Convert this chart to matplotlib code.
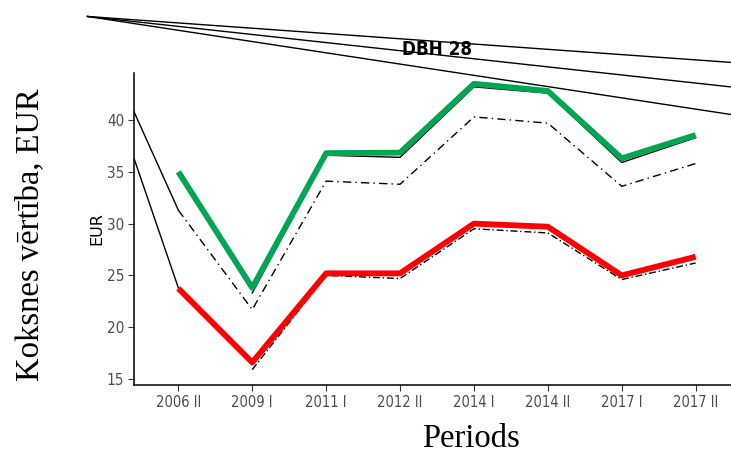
import matplotlib.pyplot as plt
import numpy as np

# periods on the x axis
periods = ["2006 II", "2009 I", "2011 I", "2012 II", "2014 I", "2014 II", "2017 I", "2017 II"]

# series values, EUR
green_thick = [35.0, 23.8, 36.8, 36.85, 43.5, 42.8, 36.3, 38.55]
black_solid = [np.nan, 23.3, 36.6, 36.4, 43.2, 42.6, 35.9, 38.3]
black_dash = [31.3, 21.7, 34.1, 33.8, 40.3, 39.7, 33.6, 35.8]
red_thick = [23.75, 16.6, 25.2, 25.2, 30.0, 29.7, 25.0, 26.8]
red_dashdot = [np.nan, 15.9, 25.0, 24.7, 29.5, 29.1, 24.6, 26.2]

# stray connector lines that run in from outside the panel (x in category units)
left_x = [-0.6, 0.0]
left_a = [40.8, 31.3]
left_b = [36.3, 23.8]
top_x = [-1.23, 7.6]
top_lines = [[50.0, 45.5], [50.0, 43.1], [50.0, 40.4]]

narrow = ['Liberation Sans Narrow', 'DejaVu Sans']
serif = ['Liberation Serif', 'DejaVu Serif']

fig = plt.figure(figsize=(7.31, 4.53), dpi=100)
ax = fig.add_axes([134 / 731, 1 - 385 / 453, (740 - 134) / 731, (385 - 73) / 453])

x = np.arange(len(periods))

ax.plot(x, black_dash, color='black', lw=1, dashes=(6, 3, 1, 3), zorder=2)
ax.plot(x, black_solid, color='black', lw=1, zorder=2)
ax.plot(x, red_dashdot, color='black', lw=1, dashes=(5, 2, 1, 2), zorder=2)
ax.plot(x, green_thick, color='#00A651', lw=4.2, solid_capstyle='butt', zorder=3)
ax.plot(x, red_thick, color='#FF0000', lw=4.2, solid_capstyle='butt', zorder=3)

ax.plot(left_x, left_a, color='black', lw=1, zorder=2)
ax.plot(left_x, left_b, color='black', lw=1, zorder=2)
for ys in top_lines:
    ax.plot(top_x, ys, color='black', lw=1, clip_on=False, zorder=4)

ax.set_xlim(-0.6, 7.6)
ax.set_ylim(14.42, 44.54)
ax.set_xticks(x)
ax.set_xticklabels(periods, family=narrow, fontstretch='condensed', fontsize=10.5, color='#4D4D4D')
ax.set_yticks([15, 20, 25, 30, 35, 40])
ax.set_yticklabels(['15', '20', '25', '30', '35', '40'], family=narrow, fontstretch='condensed',
                   fontsize=11, color='#4D4D4D')
ax.tick_params(axis='both', length=4, width=0.8, color='#333333', pad=3)

for s in ['top', 'right']:
    ax.spines[s].set_visible(False)
for s in ['left', 'bottom']:
    ax.spines[s].set_linewidth(1.1)

ax.set_ylabel("EUR", fontsize=11.5, labelpad=2)
ax.set_title("DBH 28", family=narrow, fontstretch='condensed', fontsize=13.5, fontweight='bold',
             x=(437 - 134) / 606, pad=13)

fig.text(30 / 731, 1 - 235 / 453, "Koksnes vērtība, EUR", family=serif, fontsize=23.5,
         rotation=90, ha='center', va='center')
fig.text(471 / 731, 1 - 439 / 453, "Periods", family=serif, fontsize=23.5, ha='center', va='center')

fig.savefig("out.png", dpi=100)
